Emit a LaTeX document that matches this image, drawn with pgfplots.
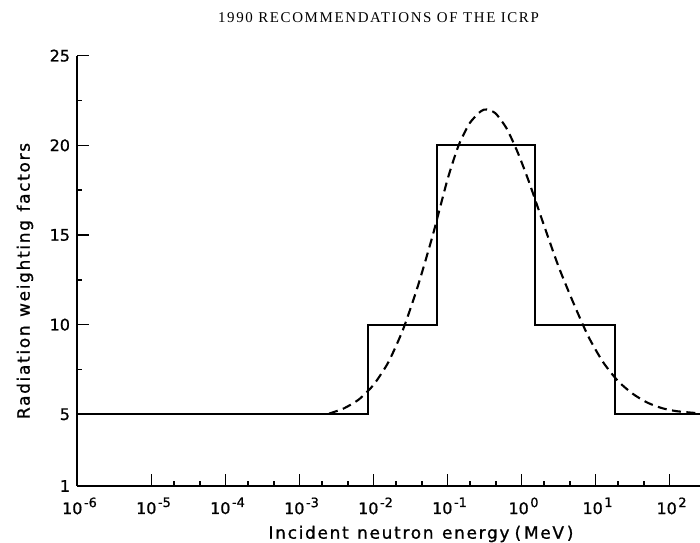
\documentclass[border=0pt]{standalone}
\usepackage{fontspec}
\setmainfont{DejaVu Sans}[LetterSpace=10, FakeBold=1]
\newfontfamily\tickfont{DejaVu Sans}[FakeBold=1]
\newfontfamily\titlefont{Liberation Serif}[LetterSpace=11]
\usepackage{pgfplots}
\pgfplotsset{compat=1.18}
\newcommand{\dec}[1]{10\hspace{1.5bp}\raisebox{7bp}{\fontsize{13}{14}\selectfont #1}}
\begin{document}
\begin{tikzpicture}[x=1bp,y=1bp]
\useasboundingbox (0,0) rectangle (700,543);
\begin{axis}[
  at={(77.5bp,57bp)}, anchor=south west,
  scale only axis, width=622.5bp, height=430.3bp,
  xmode=log, xmin=1e-6, xmax=258, ymin=1, ymax=25,
  axis lines=left, axis line style={-, line width=2bp},
  tick align=inside,
  major tick length=12bp, minor tick length=5bp,
  tick style={black, line width=1.6bp},
  xtick={1e-6,1e-5,1e-4,1e-3,1e-2,1e-1,1,10,100},
  xticklabels={\dec{-6},\dec{-5},\dec{-4},\dec{-3},\dec{-2},\dec{-1},\dec{0},\dec{1},\dec{2}},
  minor xtick={2e-5,4.5e-5,2e-4,4.5e-4,2e-3,4.5e-3,2e-2,4.5e-2,0.2,0.45,2,4.5,20,45},
  ytick={1,5,10,15,20,25},
  yticklabels={1,5,10,15,20,25},
  minor ytick={7.5,12.5,17.5,22.5},
  xticklabel style={font=\tickfont\fontsize{16}{18}\selectfont, yshift=-8bp, xshift=2bp},
  yticklabel style={font=\tickfont\fontsize{16}{18}\selectfont, xshift=-4bp},
]
% ICRP step function
\addplot[black, line width=2.1bp, sharp plot] coordinates {
  (1e-6,5) (0.0085,5) (0.0085,10) (0.0714,10) (0.0714,20)
  (1.51,20) (1.51,10) (18.2,10) (18.2,5) (258,5)
};
% continuous (dashed) curve
\addplot[black, line width=2.1bp, dash pattern=on 9bp off 5.5bp, smooth, tension=0.4] coordinates {
  (2.512e-3,5.04) (3.981e-3,5.33) (6.310e-3,5.82)
  (0.01,6.64) (0.01585,7.90) (0.02512,9.74) (0.03981,12.16)
  (0.06310,14.98) (0.1,18.1) (0.1413,20.0) (0.1995,21.24)
  (0.2818,21.9) (0.3388,22.0) (0.4467,21.78) (0.631,20.93)
  (0.891,19.59) (1.259,17.97) (1.995,15.58) (3.162,13.24)
  (5.012,11.22) (7.943,9.36) (12.59,7.92) (19.95,6.87)
  (31.62,6.15) (50.12,5.65) (79.43,5.34) (125.9,5.17) (258,5.05)
};
\end{axis}
\node[font=\titlefont\fontsize{15}{17}\selectfont] at (378.5,525.5) {1990 RECOMMENDATIONS OF THE ICRP};
\node[rotate=90, font=\fontsize{17}{19}\selectfont] at (25,262) {Radiation\hspace{0.5em}weighting\hspace{0.5em}factors};
\node[font=\fontsize{17}{19}\selectfont] at (421,9) {Incident\hspace{0.5em}neutron\hspace{0.5em}energy\hspace{0.3em}(\,MeV\,)};
\end{tikzpicture}
\end{document}
